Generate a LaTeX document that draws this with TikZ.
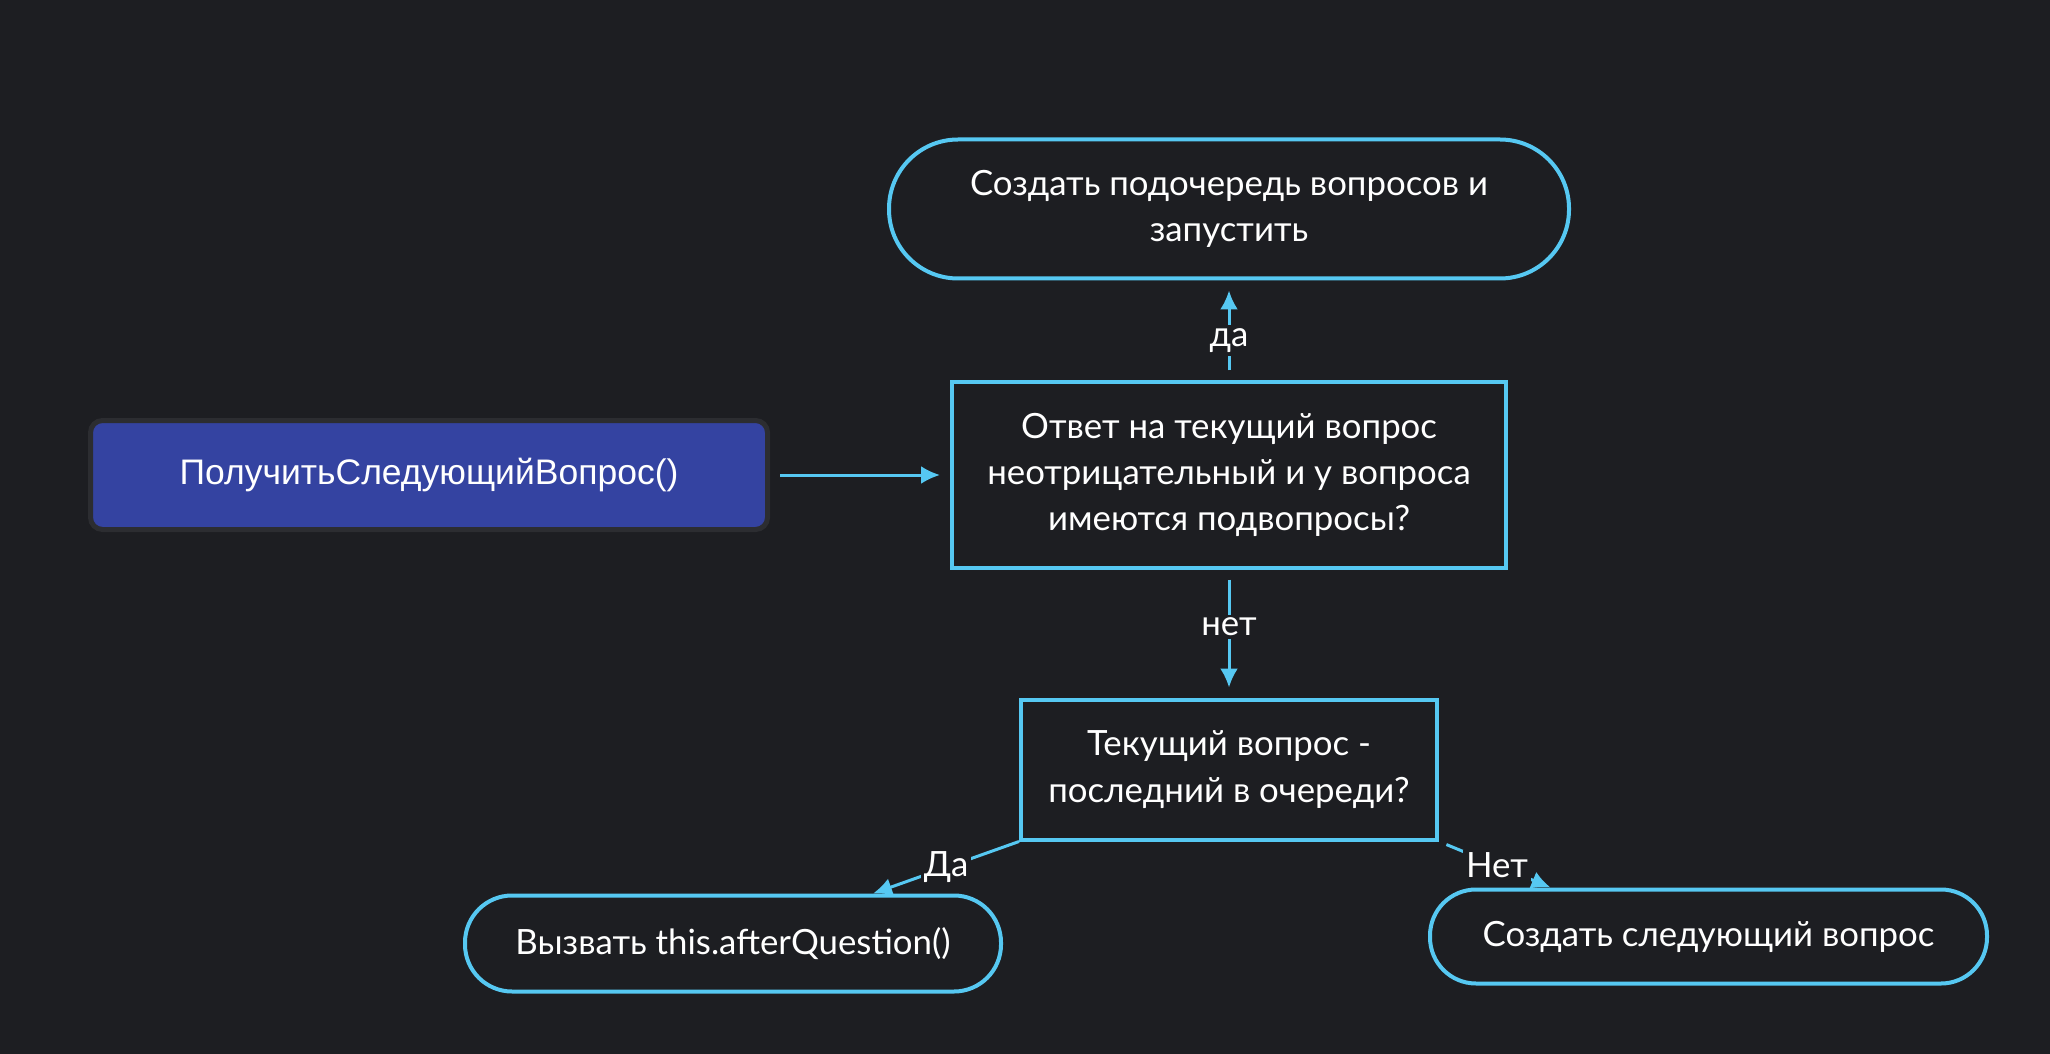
\documentclass[tikz,border=0pt]{standalone}
\usepackage{fontspec}
\setmainfont{Lato}
\newfontfamily\startfont{Liberation Sans}
\usetikzlibrary{positioning,arrows.meta}

\definecolor{bg_dark}{HTML}{1D1E22}
\definecolor{line_blue}{HTML}{56C8F2}
\definecolor{fill_blue}{HTML}{3443A1}
\definecolor{edge_grey}{HTML}{2C2D31}

\begin{document}
\begin{tikzpicture}[
        font=\fontsize{9.9}{13.2}\selectfont,
        start_node/.style={rectangle, rounded corners=1.2mm, draw=edge_grey, fill=fill_blue, line width=0.5mm, minimum width=67.7mm, minimum height=10.9mm, text=white, font=\startfont\fontsize{10.1}{12}\selectfont},
        check_node/.style={rectangle, draw=line_blue, line width=0.4mm, text=white, align=center},
        end_node/.style={rectangle, rounded corners=#1, draw=line_blue, line width=0.4mm, text=white, align=center},
        flow_arrow/.style={draw=line_blue, line width=0.3mm, -{Latex[length=1.9mm,width=1.8mm]}},
        flow_label/.style={fill=bg_dark, text=white, inner sep=0.3mm}
        ]
            % Background
            \fill[bg_dark] (0,0) rectangle (205mm,-105.4mm);

            % checks
            \node[check_node, minimum width=55.4mm, minimum height=18.5mm] (q_check) at (122.9mm,-47.5mm) {Ответ на текущий вопрос\\неотрицательный и у вопроса\\имеются подвопросы?};
            \node[check_node, minimum width=41.6mm, minimum height=14mm]   (q_last)  [below = 12.8mm of q_check] {Текущий вопрос -\\последний в очереди?};
            % start
            \node[start_node]    (next_q)    [left = 18mm of q_check]      {ПолучитьСледующийВопрос()};
            % ends
            \node[end_node=6.9mm, minimum width=68mm, minimum height=13.9mm]  (sub_queue) [above = 10mm of q_check] {Создать подочередь вопросов и\\запустить};
            \node[end_node=4.7mm, minimum width=53.6mm, minimum height=9.6mm] (after_q)   [below left  = 5.2mm and 1.6mm of q_last]  {Вызвать this.afterQuestion()};
            \node[end_node=4.6mm, minimum width=55.7mm, minimum height=9.4mm] (new_q)     [below right = 4.6mm and -1.1mm of q_last] {Создать следующий вопрос};
            \coordinate (after_q_in) at ([xshift=14mm]after_q.north);
            \coordinate (new_q_in)   at ([xshift=-15.8mm]new_q.north);

            % Lines
            \draw[flow_arrow, shorten <=1mm, shorten >=1mm] (next_q) -- (q_check);
            \draw[flow_arrow, shorten <=1mm, shorten >=1mm] (q_check) -- node[flow_label, pos=0.4] {да} (sub_queue);
            \draw[flow_arrow, shorten <=1mm, shorten >=1mm] (q_check) -- node[flow_label, pos=0.45] {нет} (q_last);
            \draw[flow_arrow] (q_last.south west) -- node[flow_label] {Да} (after_q_in);
            \draw[flow_arrow, shorten <=0.8mm] (q_last.south east) -- node[flow_label, pos=0.52] {Нет} (new_q_in);
        \end{tikzpicture}
\end{document}
